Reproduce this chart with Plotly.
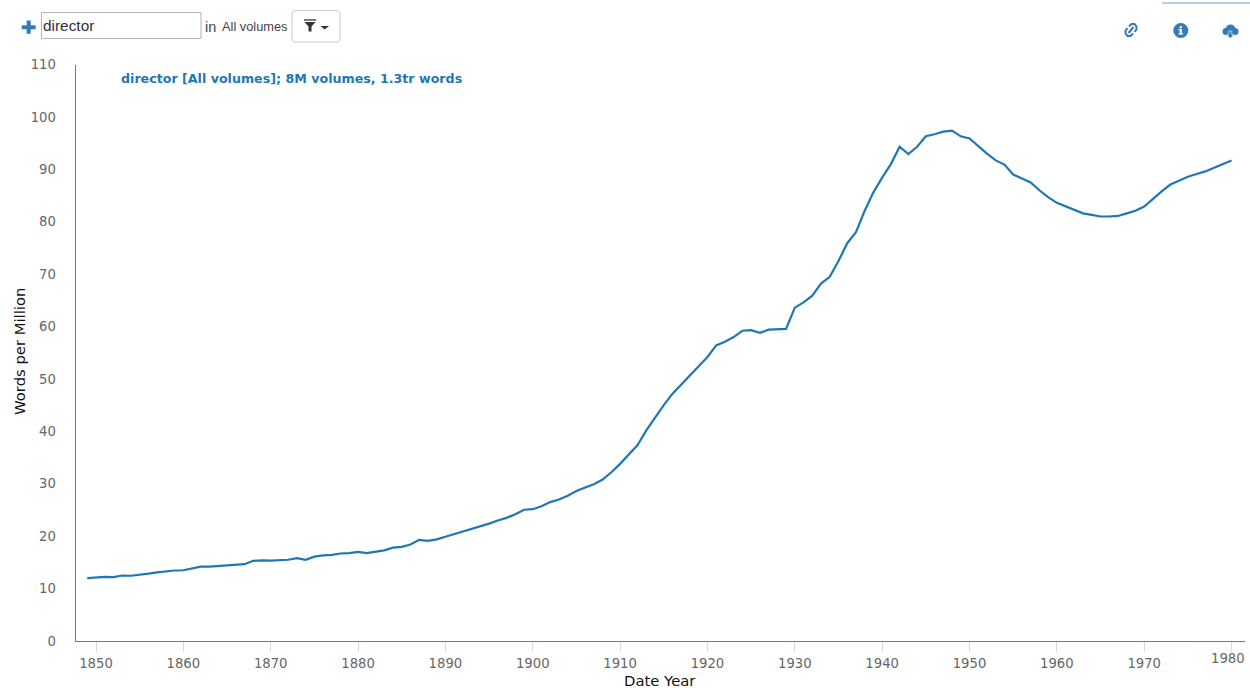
import plotly.graph_objects as go

W, H = 1250, 688

years = list(range(1849, 1981))
words_per_million = [
    12.0, 12.15, 12.25, 12.2, 12.5, 12.45, 12.6, 12.85, 13.1, 13.3, 13.45,
    13.5, 13.9, 14.2, 14.2, 14.3, 14.45, 14.45, 14.65, 15.3, 15.4,
    15.35, 15.4, 15.5, 15.8, 15.5, 16.1, 16.35, 16.45, 16.7, 16.75,
    17.0, 16.75, 17.05, 17.3, 17.8, 17.95, 18.4, 19.3, 19.1, 19.4,
    19.9, 20.4, 20.9, 21.35, 21.9, 22.4, 23.0, 23.5, 24.2, 25.05,
    25.15, 25.7, 26.5, 27.0, 27.7, 28.6, 29.3, 29.9, 30.8, 32.2,
    33.8, 35.6, 37.4, 40.2, 42.7, 45.0, 47.2, 49.0, 50.8, 52.4,
    54.2, 56.4, 57.1, 58.0, 59.2, 59.3, 58.8, 59.4, 59.5, 59.55,
    63.6, 64.6, 65.9, 68.2, 69.5, 72.5, 75.9, 78.0, 82.1, 85.6,
    88.4, 91.0, 94.3, 92.9, 94.3, 96.3, 96.7, 97.2, 97.4, 96.3,
    95.9, 94.4, 93.0, 91.7, 90.9, 89.0, 88.2, 87.5, 86.0, 84.7,
    83.6, 82.9, 82.2, 81.6, 81.3, 81.0, 81.0, 81.1, 81.6, 82.1,
    82.9, 84.4, 85.8, 87.1, 87.9, 88.6, 89.1, 89.6, 90.3, 91.0, 91.7,
]
x_ticks = list(range(1850, 1981, 10))
x_tick_labels = [str(v) for v in x_ticks[:-1]] + [""]
y_ticks = list(range(0, 111, 10))
series_label = "director [All volumes]; 8M volumes, 1.3tr words"

BLUE = "#1f77b4"
ICON = "#337ab7"
GRAY = "#666666"
LABEL_FONT = "DejaVu Sans"
UI_FONT = "Liberation Sans"


def px(x):
    return x / W


def py(y):
    return 1 - y / H


def path(points, close=True):
    body = " L ".join(f"{px(a):.5f},{py(b):.5f}" for a, b in points)
    return "M " + body + (" Z" if close else "")


def rect(x0, y0, x1, y1, fill=None, line=None, width=1):
    return dict(type="rect", xref="paper", yref="paper", x0=px(x0), x1=px(x1), y0=py(y1), y1=py(y0),
                fillcolor=fill or "rgba(0,0,0,0)", line=dict(color=line or "rgba(0,0,0,0)", width=width if line else 0))


def poly(points, fill=None, line=None, width=1, close=True):
    return dict(type="path", xref="paper", yref="paper", path=path(points, close),
                fillcolor=fill or "rgba(0,0,0,0)", line=dict(color=line or "rgba(0,0,0,0)", width=width if line else 0))


def circle(cx, cy, r, fill):
    return dict(type="circle", xref="paper", yref="paper", x0=px(cx - r), x1=px(cx + r), y0=py(cy + r), y1=py(cy - r),
                fillcolor=fill, line=dict(width=0))


def text(x, y, s, size, color, font=UI_FONT, xanchor="left", bold=False):
    return dict(xref="paper", yref="paper", x=px(x), y=py(y), text=f"<b>{s}</b>" if bold else s,
                showarrow=False, xanchor=xanchor, yanchor="middle", align="left",
                font=dict(family=font, size=size, color=color), borderpad=0, borderwidth=0)


shapes = [
    # plus
    rect(21.7, 25.3, 35.7, 29.3, fill=ICON),
    rect(26.7, 20.5, 30.7, 33.8, fill=ICON),
    # search box
    rect(41.5, 12.5, 201, 38.5, fill="white", line="#b4b4b4"),
    # filter button
    dict(type="path", xref="paper", yref="paper", line=dict(color="#cccccc", width=1), fillcolor="white",
         path=("M " + f"{px(295)},{py(10.5)} L {px(337)},{py(10.5)} Q {px(340)},{py(10.5)} {px(340)},{py(13.5)} "
               f"L {px(340)},{py(39)} Q {px(340)},{py(42)} {px(337)},{py(42)} L {px(295)},{py(42)} "
               f"Q {px(292)},{py(42)} {px(292)},{py(39)} L {px(292)},{py(13.5)} Q {px(292)},{py(10.5)} {px(295)},{py(10.5)} Z")),
    rect(304, 19.3, 316, 20.6, fill="#333333"),
    poly([(304.5, 22), (315.5, 22), (311.5, 26.5), (311.5, 31.5), (308.5, 31.5), (308.5, 26.5)], fill="#333333"),
    poly([(320.5, 26), (329, 26), (324.7, 29.5)], fill="#333333"),
    # top-right rule
    rect(1162, 2.6, 1250, 3.4, fill="#7a9fc6"),
    # link icon
    poly([(1127.5, 28), (1125.5, 30.5), (1125.5, 33.5), (1127.5, 36), (1130.5, 36), (1133, 33.5)], line=ICON, width=2, close=False),
    poly([(1134.5, 32), (1136.5, 29.5), (1136.5, 26.5), (1134.5, 24), (1131.5, 24), (1129, 26.5)], line=ICON, width=2, close=False),
    poly([(1128.5, 33), (1133.5, 27)], line=ICON, width=2, close=False),
    # info icon
    circle(1180.8, 30.5, 7.5, ICON),
    rect(1179.6, 26.3, 1182, 28.2, fill="white"),
    rect(1179.6, 29.3, 1182, 34, fill="white"),
    rect(1178.4, 29.3, 1182, 30.3, fill="white"),
    rect(1178.4, 33.4, 1183.2, 34.6, fill="white"),
    # cloud icon
    circle(1230.5, 29.5, 5, ICON),
    circle(1226, 31.5, 3.5, ICON),
    circle(1235, 31.5, 3.5, ICON),
    rect(1226, 31, 1235, 35, fill=ICON),
    poly([(1228.8, 31), (1231.8, 31), (1231.8, 34.5), (1234, 34.5), (1230.3, 38.5), (1226.6, 34.5), (1228.8, 34.5)],
         fill=ICON, line="white", width=0.6),
]

annotations = [
    text(43, 26, "director", 15.4, "#333333"),
    text(205, 26.5, "in", 14.5, "#444444"),
    text(221.5, 27, "All volumes", 12.8, "#444444"),
    text(121, 78.5, series_label, 12.65, BLUE, font=LABEL_FONT, bold=True),
    text(660, 680, "Date Year", 14.8, "#111111", font=LABEL_FONT, xanchor="center"),
    dict(xref="x", yref="paper", x=1980, y=py(658), text="1980", showarrow=False, xshift=-4, xanchor="center",
         yanchor="middle", font=dict(family=LABEL_FONT, size=13.2, color=GRAY)),
    dict(xref="paper", yref="paper", x=px(19), y=py(352), text="Words per Million", textangle=-90, showarrow=False,
         xanchor="center", yanchor="middle", font=dict(family=LABEL_FONT, size=14.8, color="#111111")),
]

fig = go.Figure(go.Scatter(x=years, y=words_per_million, mode="lines",
                           line=dict(color=BLUE, width=2.2), hoverinfo="x+y"))
fig.update_layout(
    width=W, height=H, margin=dict(l=0, r=0, t=0, b=0, autoexpand=False), autosize=False,
    paper_bgcolor="white", plot_bgcolor="white", showlegend=False,
    shapes=shapes, annotations=annotations,
    xaxis=dict(domain=[px(75.5), px(1245)], range=[1850 - (96 - 75.5) / 8.735, 1850 + (1245 - 96) / 8.735],
               tickmode="array", tickvals=x_ticks, ticktext=x_tick_labels, ticks="outside", ticklen=10, tickwidth=1,
               tickcolor="#cfdcec", showgrid=False, zeroline=False, showline=True, linecolor="#777777", linewidth=1,
               tickfont=dict(family=LABEL_FONT, size=13.2, color=GRAY)),
    yaxis=dict(domain=[py(641), py(64.5)], range=[0, 110], tickmode="array", tickvals=y_ticks, ticks="",
               ticklabelstandoff=16, showgrid=False, zeroline=False, showline=True, linecolor="#777777", linewidth=1,
               tickfont=dict(family=LABEL_FONT, size=13.2, color=GRAY)),
)
fig.write_html("out.html", post_script="document.body.style.margin='0';", config={"displayModeBar": False})
